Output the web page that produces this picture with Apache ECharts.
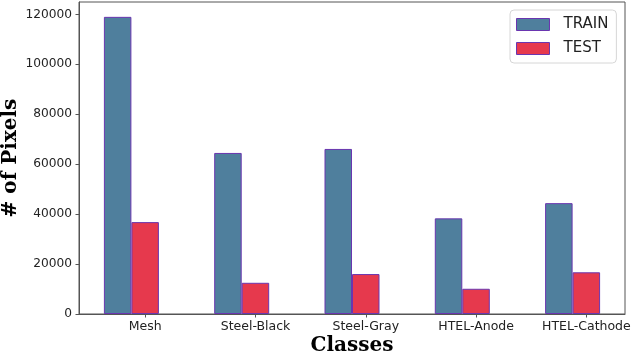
<!DOCTYPE html>
<html>
<head>
<meta charset="utf-8">
<script src="https://cdn.jsdelivr.net/npm/echarts@6/dist/echarts.min.js"></script>
<style>
  html, body { margin: 0; padding: 0; background: #fff; }
  #chart { width: 633px; height: 352px; }
</style>
</head>
<body>
<div id="chart"></div>
<script>
const categories = ['Mesh', 'Steel-Black', 'Steel-Gray', 'HTEL-Anode', 'HTEL-Cathode']
const trainValues = [119000, 64500, 66100, 38300, 44400]
const testValues = [36800, 12500, 16000, 10100, 16700]
const yTicks = [0, 20000, 40000, 60000, 80000, 100000, 120000]

// matplotlib-style layout: bar width 0.25, TEST bar offset by one width, tick on TEST bar
const BAR_W = 0.25
const groupCenter = (i) => i + BAR_W / 2
const labelPos = categories.map((_, i) => i + BAR_W)

const chart = echarts.init(document.getElementById('chart'))

const edge = '#6a36b0'
const axisColor = '#555'
const tickFont = { color: '#222', fontSize: 12.5, fontFamily: 'DejaVu Sans' }
const titleFont = { color: '#000', fontSize: 20, fontWeight: 'bold', fontFamily: 'DejaVu Serif' }

chart.setOption({
  animation: false,
  grid: {
    left: 79,
    right: 8,
    top: 2,
    bottom: 38,
    containLabel: false,
    outerBoundsMode: 'none',
    show: true,
    borderColor: axisColor,
    borderWidth: 1,
  },
  legend: {
    orient: 'vertical',
    left: 510,
    top: 10,
    padding: [7, 8, 7, 6],
    icon: 'rect',
    itemWidth: 33,
    itemHeight: 12,
    itemGap: 9,
    itemStyle: { borderWidth: 1 },
    borderColor: '#d6d6d6',
    borderWidth: 1,
    borderRadius: 4,
    backgroundColor: '#fff',
    textStyle: { color: '#222', fontSize: 15, fontFamily: 'DejaVu Sans', padding: [0, 0, 0, 9] },
    data: ['TRAIN', 'TEST'],
  },
  xAxis: {
    type: 'value',
    min: -0.35,
    max: 4.6,
    name: 'Classes',
    nameLocation: 'middle',
    nameGap: 22,
    nameMoveOverlap: false,
    nameTextStyle: titleFont,
    splitLine: { show: false },
    axisLine: { show: true, onZero: false, lineStyle: { color: axisColor } },
    axisTick: { show: true, length: 3.5, customValues: labelPos, lineStyle: { color: axisColor } },
    axisLabel: {
      ...tickFont,
      margin: 6,
      customValues: labelPos,
      formatter: (v) => categories[Math.round(v - BAR_W)] ?? '',
    },
  },
  yAxis: {
    type: 'value',
    min: 0,
    max: 124950,
    name: '# of Pixels',
    nameLocation: 'middle',
    nameGap: 58,
    nameMoveOverlap: false,
    nameTextStyle: titleFont,
    splitLine: { show: false },
    axisLine: { show: true, onZero: false, lineStyle: { color: axisColor } },
    axisTick: { show: true, length: 3.5, customValues: yTicks, lineStyle: { color: axisColor } },
    axisLabel: { ...tickFont, fontSize: 12.2, margin: 7, customValues: yTicks, formatter: (v) => String(v) },
  },
  series: [
    {
      name: 'TRAIN',
      type: 'bar',
      barWidth: 27.5,
      barGap: 0,
      itemStyle: { color: '#4f7f9d', borderColor: edge, borderWidth: 1 },
      data: trainValues.map((v, i) => [groupCenter(i), v]),
    },
    {
      name: 'TEST',
      type: 'bar',
      barWidth: 27.5,
      barGap: 0,
      itemStyle: { color: '#e6394d', borderColor: edge, borderWidth: 1 },
      data: testValues.map((v, i) => [groupCenter(i), v]),
    },
  ],
})
</script>
</body>
</html>
